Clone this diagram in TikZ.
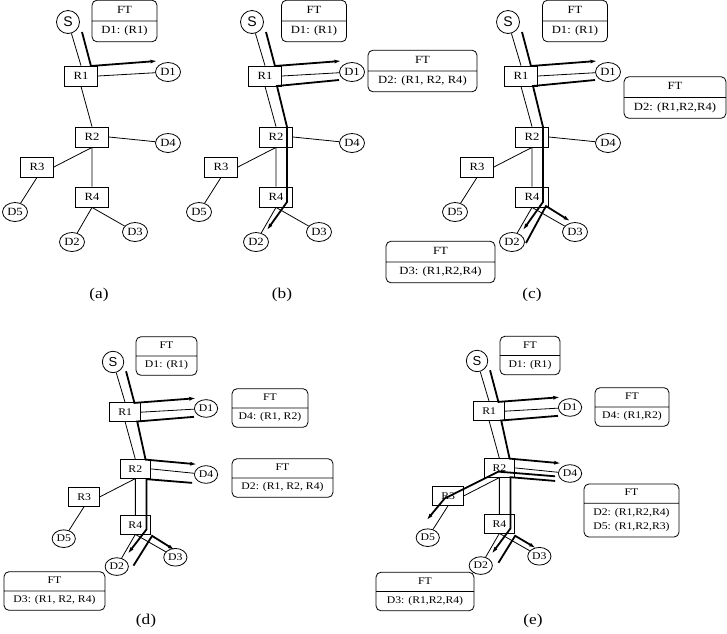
\documentclass[tikz,border=0pt]{standalone}
\usepackage{fontspec}
\setmainfont{Liberation Serif}[FakeStretch=1.15]
\newfontfamily\srcfont{Liberation Sans}
\usetikzlibrary{arrows.meta,shapes.geometric,shapes.multipart}

\newcommand{\network}[1]{%
\node[src] (#1S) at (68,22) {S}; \node[rtr] (#1R1) at (81,76) {R1}; \node[rtr] (#1R2) at (92,137) {R2};
\node[rtr] (#1R3) at (37,167) {R3}; \node[rtr] (#1R4) at (92,197) {R4};
\node[dst] (#1D1) at (168,72) {D1}; \node[dst] (#1D4) at (168,143) {D4}; \node[dst] (#1D5) at (15,212) {D5};
\node[dst] (#1D2) at (72,242) {D2}; \node[dst] (#1D3) at (135,232) {D3};
\draw[link] (#1S) -- (#1R1.north) (#1R1.east) -- (#1D1) (#1R1.south) -- (#1R2.north) (#1R2.east) -- (#1D4)
  (#1R2.south) -- (#1R3.east) (#1R2.south) -- (#1R4.north) (#1R3.south) -- (#1D5) (#1R4.south) -- (#1D2) (#1R4.south) -- (#1D3);
}
\newcommand{\fttext}[1]{\strut FT\nodepart{two}\strut #1}

\begin{document}
\begin{tikzpicture}[x=1pt, y=-1pt, >={Latex[length=6.5pt,width=4pt]}, font=\fontsize{11}{12.4}\selectfont,
  src/.style={circle, draw, fill=white, minimum size=23pt, inner sep=0pt, line width=0.8pt, font=\srcfont\fontsize{14}{15}\selectfont},
  rtr/.style={rectangle, draw, fill=white, minimum width=33pt, minimum height=20pt, inner sep=1pt, line width=0.8pt},
  dst/.style={ellipse, draw, fill=white, minimum width=25pt, minimum height=19pt, inner sep=0pt, line width=0.8pt},
  link/.style={line width=0.8pt}, flow/.style={line width=1.8pt},
  ft/.style={rectangle split, rectangle split parts=2, draw, rounded corners=5pt, fill=white, inner ysep=3.8pt, inner xsep=2pt, line width=0.8pt},
  ftsmall/.style={ft, font=\fontsize{10.2}{11.5}\selectfont, inner ysep=3.5pt},
  panellabel/.style={font=\fontsize{15}{17}\selectfont}]
\useasboundingbox (0,0) rectangle (727,633);

\begin{scope}
\network{a-}
\draw[flow,->] (82,32) -- (91,66) -- (157,61);
\end{scope}
\node[ft, minimum width=65pt] (a-ft1) at (124.5,21) {\fttext{D1: (R1)}};
\node[panellabel] (a-lbl) at (99,295) {(a)};

\begin{scope}[shift={(184,0)}]
\network{b-}
\draw[flow,->] (82,32) -- (91,66) -- (157,61);
\draw[flow,->] (155,80) -- (93,86) -- (103,127) -- (103,202) -- (83,230);
\end{scope}
\node[ft, minimum width=65pt] (b-ft1) at (314,21) {\fttext{D1: (R1)}};
\node[ft, minimum width=109pt] (b-ft2) at (422.5,71) {\fttext{D2: (R1, R2, R4)}};
\node[panellabel] (b-lbl) at (282,295) {(b)};

\begin{scope}[shift={(440,0)}]
\network{c-}
\draw[flow,->] (82,32) -- (91,66) -- (157,61);
\draw[flow,->] (155,80) -- (93,86) -- (103,127) -- (103,202) -- (83,230);
\draw[flow,->] (86,243) -- (106,206) -- (130,221);
\end{scope}
\node[ft, minimum width=65pt] (c-ft1) at (575,21) {\fttext{D1: (R1)}};
\node[ft, minimum width=102pt] (c-ft2) at (675,97.5) {\fttext{D2: (R1,R2,R4)}};
\node[ft, minimum width=109pt] (c-ft3) at (440.5,262) {\fttext{D3: (R1,R2,R4)}};
\node[panellabel] (c-lbl) at (532,295) {(c)};

\begin{scope}[shift={(49.8,341.5)}, scale=0.93, transform shape]
\network{d-}
\draw[flow,->] (82,32) -- (91,66) -- (157,61);
\draw[flow,->] (155,81) -- (94,86) -- (103,127) -- (158,132);
\draw[flow,->] (153,152) -- (104,148) -- (104,202) -- (84,228);
\draw[flow,->] (90,241) -- (110,209) -- (134,224);
\end{scope}
\node[ftsmall, minimum width=61pt] (d-ft1) at (166.5,356) {\fttext{D1: (R1)}};
\node[ftsmall, minimum width=76pt] (d-ft2) at (270,408) {\fttext{D4: (R1, R2)}};
\node[ftsmall, minimum width=101pt] (d-ft3) at (282.5,478) {\fttext{D2: (R1, R2, R4)}};
\node[ftsmall, minimum width=101pt] (d-ft4) at (54.5,591) {\fttext{D3: (R1, R2, R4)}};
\node[panellabel] (d-lbl) at (146,621) {(d)};

\begin{scope}[shift={(413.8,340.5)}, scale=0.93, transform shape]
\network{e-}
\draw[flow,->] (82,32) -- (91,66) -- (157,61);
\draw[flow,->] (155,81) -- (94,86) -- (103,127) -- (158,132);
\draw[flow,->] (152,146) -- (91,141) -- (33,170) -- (14,193);
\draw[flow,->] (152,151) -- (104,147) -- (104,202) -- (84,229);
\draw[flow,->] (91,239) -- (109,210) -- (131,223);
\end{scope}
\node[ftsmall, minimum width=60pt] (e-ft1) at (530,355.5) {\fttext{D1: (R1)}};
\node[ftsmall, minimum width=74pt] (e-ft2) at (632,407) {\fttext{D4: (R1,R2)}};
\node[ftsmall, minimum width=95pt] (e-ft3) at (631.5,510.5) {\strut FT\nodepart{two}\begin{tabular}{@{}c@{}}D2: (R1,R2,R4)\\[3pt]D5: (R1,R2,R3)\end{tabular}};
\node[ftsmall, minimum width=98pt] (e-ft4) at (425,591.5) {\fttext{D3: (R1,R2,R4)}};
\node[panellabel] (e-lbl) at (533,621) {(e)};
\end{tikzpicture}
\end{document}
